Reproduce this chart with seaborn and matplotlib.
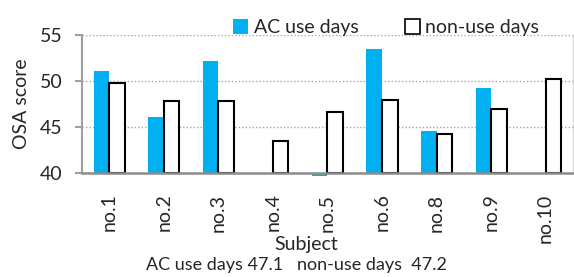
import numpy as np
import pandas as pd
import matplotlib
matplotlib.use("Agg")
import matplotlib.pyplot as plt
import seaborn as sns

# values
subjects = ["no.1", "no.2", "no.3", "no.4", "no.5", "no.6", "no.8", "no.9", "no.10"]
ac_use = [51.1, 46.1, 52.2, np.nan, 39.7, 53.5, 44.6, 49.2, np.nan]
non_use = [49.8, 47.8, 47.8, 43.5, 46.7, 48.0, 44.3, 47.0, 50.2]
series = ["AC use days", "non-use days"]
yticks = [40, 45, 50, 55]
summary = "AC use days 47.1   non-use days  47.2"

df = pd.DataFrame({
    "Subject": subjects * 2,
    "score": ac_use + non_use,
    "group": [series[0]] * len(subjects) + [series[1]] * len(subjects),
})

sns.set_style("white")
plt.rcParams["font.family"] = ["Lato", "DejaVu Sans"]

fig = plt.figure(figsize=(5.74, 2.77), dpi=100)
ax = fig.add_axes([0.143, 0.374, 0.855, 0.500])

sns.barplot(
    data=df,
    x="Subject",
    y="score",
    hue="group",
    hue_order=series,
    order=subjects,
    palette={series[0]: "#00B0F0", series[1]: "white"},
    saturation=1,
    width=0.57,
    linewidth=0,
    ax=ax,
    legend=False,
    zorder=2,
)

# bars start at the axis floor (40), like the original
for p in ax.patches:
    h = p.get_height()
    if np.isnan(h):
        continue
    p.set_y(40)
    p.set_height(h - 40)
    p.set_clip_on(False)
    fc = p.get_facecolor()
    if fc[0] > 0.9 and fc[1] > 0.9:
        p.set_edgecolor("black")
        p.set_linewidth(1.5)

ax.set_ylim(40, 55)
ax.set_yticks(yticks)
ax.set_xlim(-0.5, len(subjects) - 0.5)

for y in yticks[1:]:
    ax.axhline(y, color="#A6A6A6", lw=1, ls=(0, (1, 1.5)), zorder=1)

ax.spines["top"].set_visible(False)
ax.spines["right"].set_color("#D9D9D9")
ax.spines["right"].set_linewidth(1)
ax.spines["left"].set_color("#A0A0A0")
ax.spines["left"].set_linewidth(1.5)
ax.spines["bottom"].set_color("#8C8C8C")
ax.spines["bottom"].set_linewidth(1.8)
ax.spines["bottom"].set_zorder(5)

ax.tick_params(axis="y", which="both", left=True, length=5, width=1.5,
               color="#A0A0A0", labelsize=14, pad=9)
ax.tick_params(axis="x", bottom=False, labelsize=14, pad=11, labelrotation=90)
for lab in ax.get_xticklabels():
    lab.set_va("top")

ax.set_ylabel("OSA score", fontsize=14)
ax.yaxis.set_label_coords(-0.106, 0.5)
ax.set_xlabel("Subject", fontsize=14)
ax.xaxis.set_label_coords(0.456, -0.45)

handles = [
    plt.Rectangle((0, 0), 1, 1, facecolor="#00B0F0", edgecolor="none"),
    plt.Rectangle((0, 0), 1, 1, facecolor="white", edgecolor="black", lw=1.2),
]
fig.legend(handles, series, loc="center", bbox_to_anchor=(0.673, 0.9),
           ncol=2, frameon=False, fontsize=14, handlelength=0.75,
           handleheight=0.75, handletextpad=0.3, columnspacing=2.4)

fig.text(0.516, 0.043, summary, ha="center", va="center", fontsize=13)

fig.savefig("out.png", dpi=100)
